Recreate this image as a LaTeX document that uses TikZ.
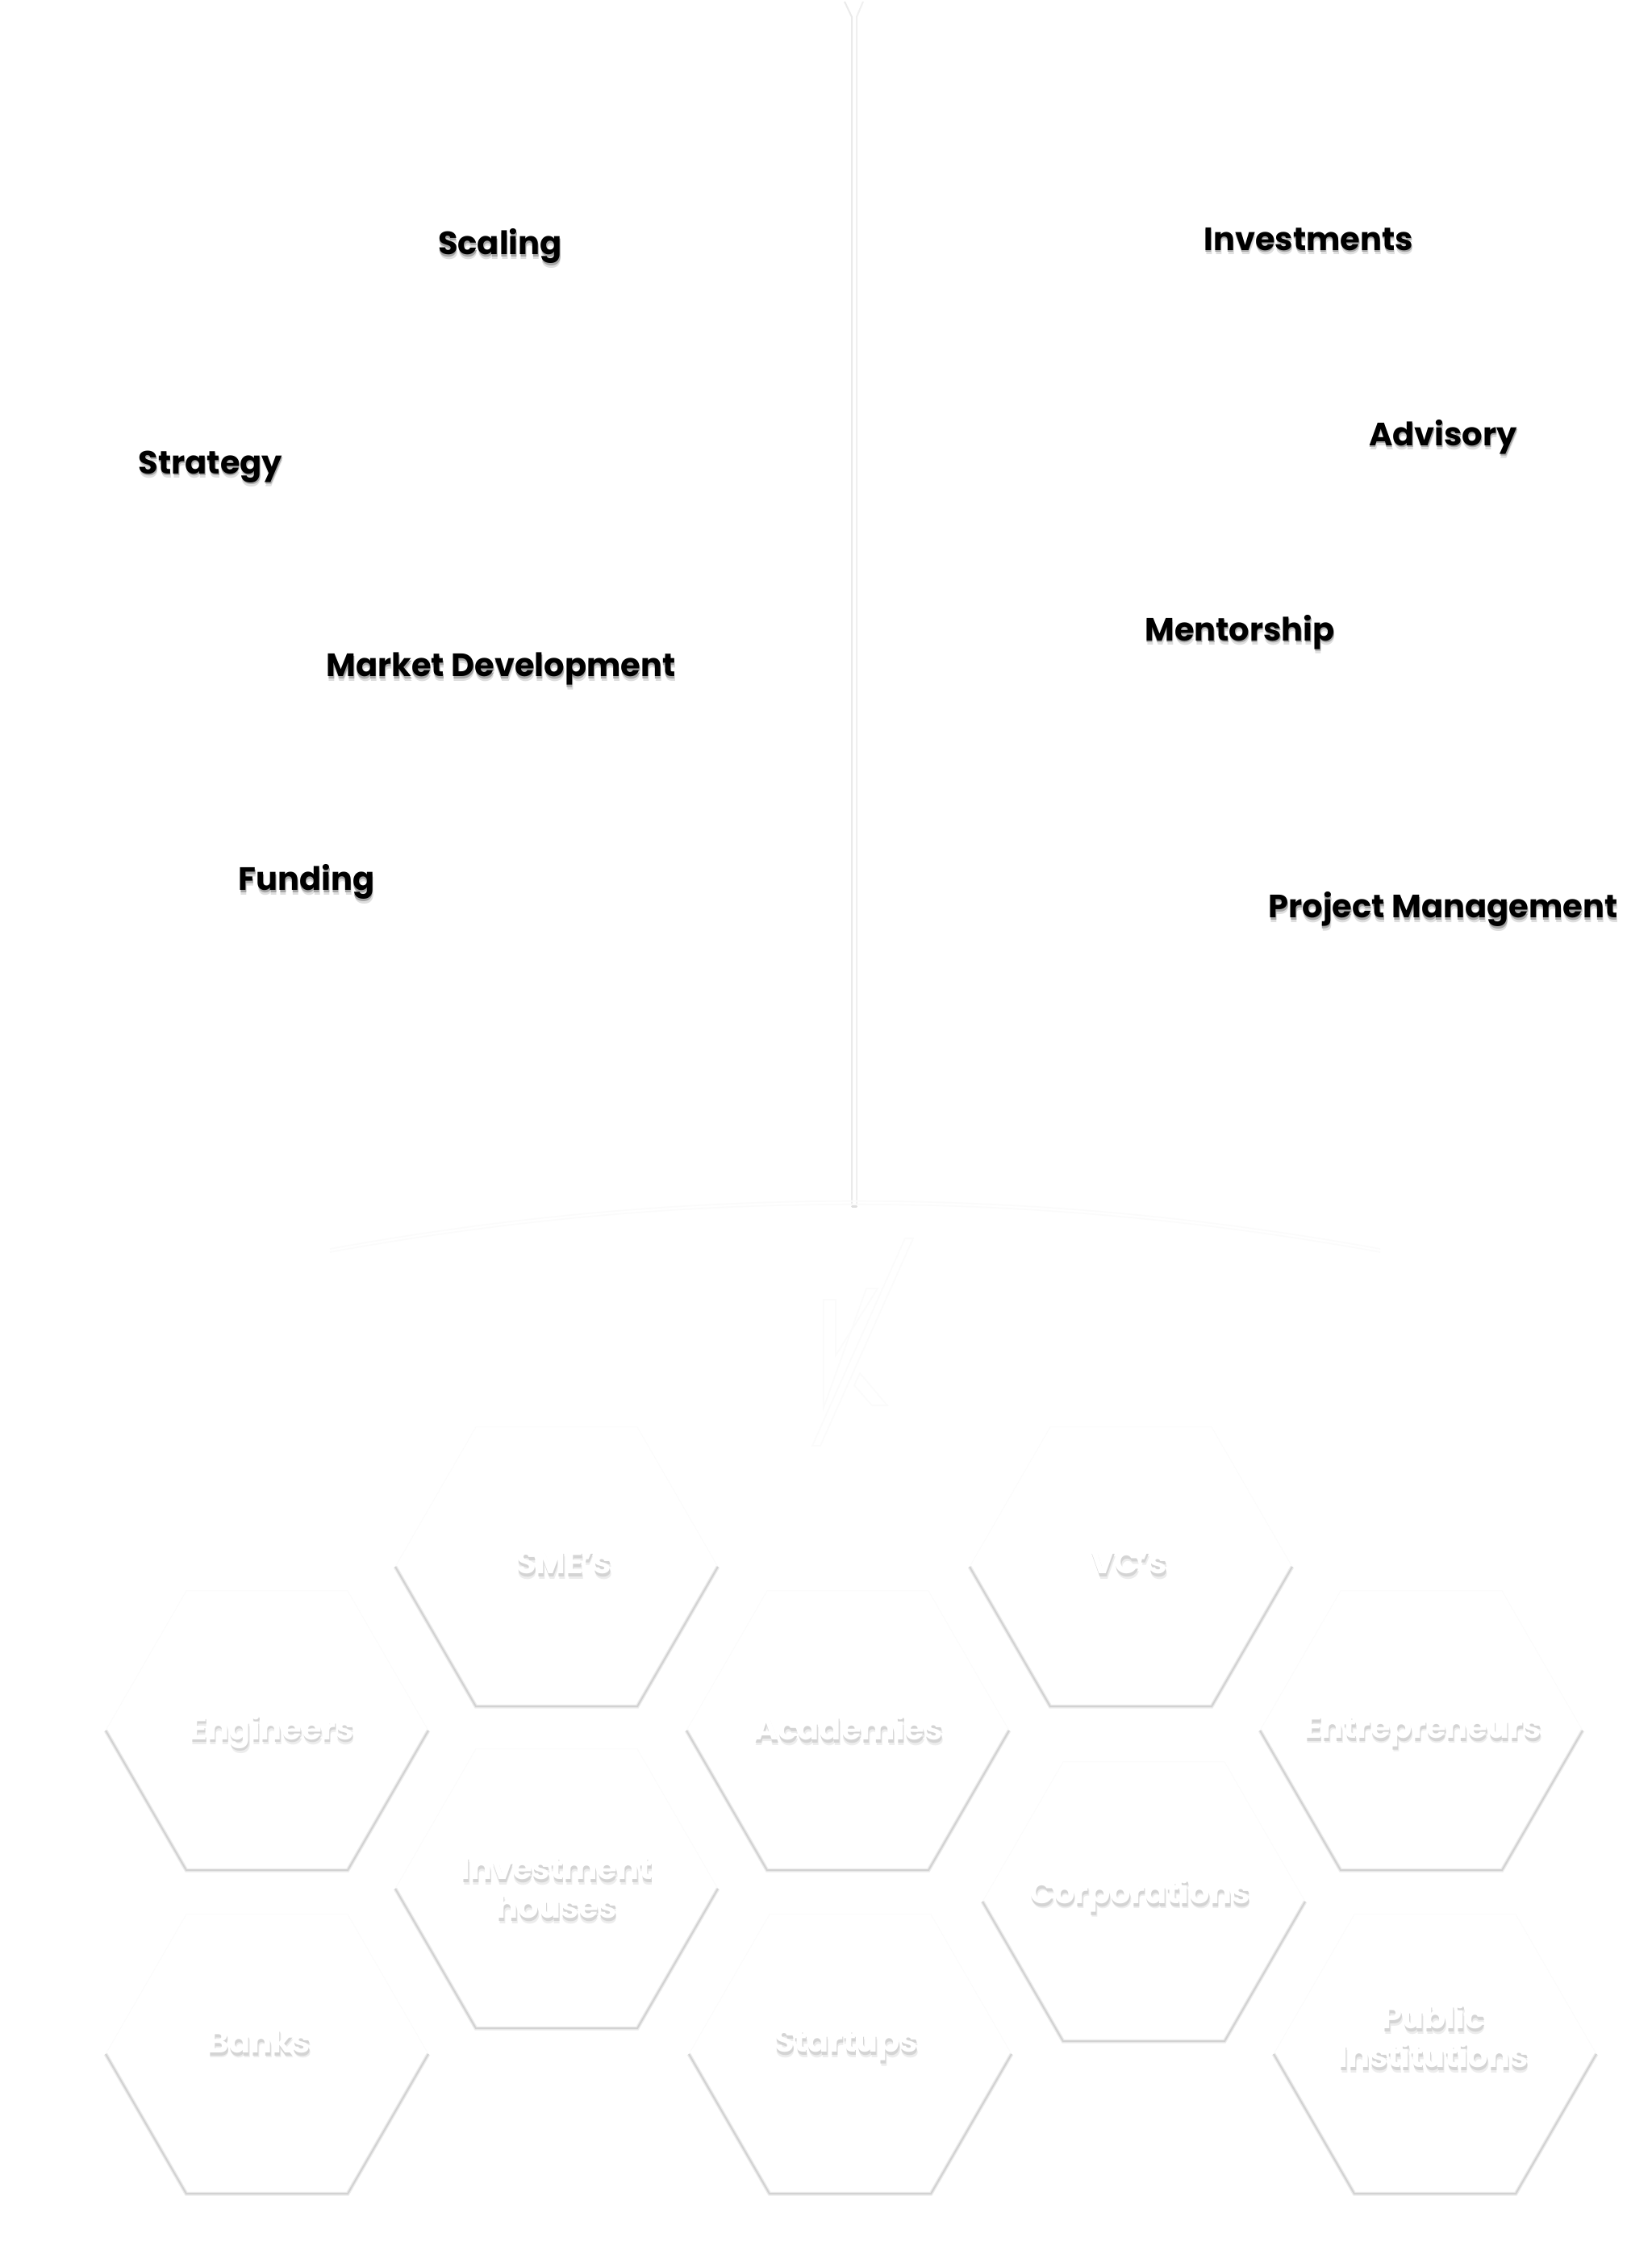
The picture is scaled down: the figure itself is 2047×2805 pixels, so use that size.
\documentclass[tikz,border=0pt]{standalone}
\usepackage{fontspec}
\setmainfont{Poppins}
\usetikzlibrary{positioning,shapes.geometric}
\definecolor{faint}{HTML}{FBFBFB}
\definecolor{edge}{HTML}{D2D2D2}
\definecolor{softedge}{HTML}{ECECEC}
\definecolor{stem}{HTML}{EAEAEA}
\definecolor{shadowdark}{HTML}{A6A6A6}
\definecolor{shadowsoft}{HTML}{DEDEDE}
\definecolor{paleone}{HTML}{D4D4D4}
\definecolor{paletwo}{HTML}{EDEDED}
\newcommand{\darklabel}[1]{\rlap{\color{shadowsoft}\raisebox{-2.6pt}{\kern.5pt #1}}\rlap{\color{shadowdark}\raisebox{-1.3pt}{\kern.3pt #1}}#1}
\newcommand{\palelabel}[1]{\rlap{\color{paletwo}\raisebox{-3.2pt}{\kern.8pt #1}}\rlap{\color{paleone}\raisebox{-1.8pt}{\kern.5pt #1}}#1}
\tikzset{
  service/.style={text=black,font=\bfseries\fontsize{20}{24}\selectfont,inner sep=0pt},
  member/.style={text=white,font=\bfseries\fontsize{20}{24}\selectfont,inner sep=0pt,align=center},
  hexcell/.style={regular polygon,regular polygon sides=6,minimum size=200pt,inner sep=0pt,outer sep=0pt,draw=faint,fill=white},
  rim/.style={edge,line width=1pt},
  softrim/.style={softedge,line width=2.4pt}
}
\begin{document}
\begin{tikzpicture}[x=.5pt,y=-.5pt]
  \useasboundingbox[fill=white] (0,0) rectangle (2047,2805);
  % stem
  \draw[stem,line width=1pt] (1047,2)--(1056,21)--(1056,1494);
  \draw[stem!70,line width=1pt] (1070,2)--(1062,21)--(1062,1494);
  \draw[shadowsoft,line width=1.5pt,line cap=round] (1056.5,1495)--(1061.5,1495);
  \draw[faint,line width=.8pt] (409,1548) .. controls (842,1469) and (1276,1469) .. (1711,1548);
  \draw[faint,line width=.8pt] (409,1552) .. controls (842,1473) and (1276,1473) .. (1711,1552);
  % logo
  \draw[faint,line width=.8pt] (1122,1535)--(1132,1535)--(1017,1792)--(1007,1792)--cycle;
  \draw[faint,line width=.8pt] (1074,1597)--(1088,1597)--(1036,1680)--(1036,1611)--(1021,1611)--(1021,1745)--cycle;
  \draw[faint,line width=.8pt] (1066,1702)--(1100,1742)--(1081,1742)--(1059,1717)--cycle;
  % services
  \node[service] (scaling) at (620,308){\darklabel{Scaling}};
  \node[service] (strategy) at (261,581){\darklabel{Strategy}};
  \node[service] (market) at (621,832){\darklabel{Market Development}};
  \node[service] (funding) at (380,1096){\darklabel{Funding}};
  \node[service] (investments) at (1622,299){\darklabel{Investments}};
  \node[service] (advisory) at (1789,544){\darklabel{Advisory}};
  \node[service] (mentorship) at (1537,786){\darklabel{Mentorship}};
  \node[service] (project) at (1789,1130){\darklabel{Project Management}};
  % hexagons
  \node[hexcell] (sme) at (690,1942){};
  \node[hexcell] (vc) at (1402,1942){};
  \node[hexcell] (engineers) at (331,2145){};
  \node[hexcell] (academies) at (1051,2145){};
  \node[hexcell] (entrepreneurs) at (1762,2145){};
  \node[hexcell] (houses) at (690,2341){};
  \node[hexcell] (corporations) at (1418,2357){};
  \node[hexcell] (banks) at (331,2546){};
  \node[hexcell] (startups) at (1054,2546){};
  \node[hexcell] (public) at (1779,2546){};
  \draw[softrim] (sme.corner 3)--(sme.corner 4)--(sme.corner 5)--(sme.corner 6);
  \draw[rim] (sme.corner 3)--(sme.corner 4)--(sme.corner 5)--(sme.corner 6);
  \draw[softrim] (vc.corner 3)--(vc.corner 4)--(vc.corner 5)--(vc.corner 6);
  \draw[rim] (vc.corner 3)--(vc.corner 4)--(vc.corner 5)--(vc.corner 6);
  \draw[softrim] (engineers.corner 3)--(engineers.corner 4)--(engineers.corner 5)--(engineers.corner 6);
  \draw[rim] (engineers.corner 3)--(engineers.corner 4)--(engineers.corner 5)--(engineers.corner 6);
  \draw[softrim] (academies.corner 3)--(academies.corner 4)--(academies.corner 5)--(academies.corner 6);
  \draw[rim] (academies.corner 3)--(academies.corner 4)--(academies.corner 5)--(academies.corner 6);
  \draw[softrim] (entrepreneurs.corner 3)--(entrepreneurs.corner 4)--(entrepreneurs.corner 5)--(entrepreneurs.corner 6);
  \draw[rim] (entrepreneurs.corner 3)--(entrepreneurs.corner 4)--(entrepreneurs.corner 5)--(entrepreneurs.corner 6);
  \draw[softrim] (houses.corner 3)--(houses.corner 4)--(houses.corner 5)--(houses.corner 6);
  \draw[rim] (houses.corner 3)--(houses.corner 4)--(houses.corner 5)--(houses.corner 6);
  \draw[softrim] (corporations.corner 3)--(corporations.corner 4)--(corporations.corner 5)--(corporations.corner 6);
  \draw[rim] (corporations.corner 3)--(corporations.corner 4)--(corporations.corner 5)--(corporations.corner 6);
  \draw[softrim] (banks.corner 3)--(banks.corner 4)--(banks.corner 5)--(banks.corner 6);
  \draw[rim] (banks.corner 3)--(banks.corner 4)--(banks.corner 5)--(banks.corner 6);
  \draw[softrim] (startups.corner 3)--(startups.corner 4)--(startups.corner 5)--(startups.corner 6);
  \draw[rim] (startups.corner 3)--(startups.corner 4)--(startups.corner 5)--(startups.corner 6);
  \draw[softrim] (public.corner 3)--(public.corner 4)--(public.corner 5)--(public.corner 6);
  \draw[rim] (public.corner 3)--(public.corner 4)--(public.corner 5)--(public.corner 6);
  % names
  \node[member] (smetext) at (699,1940){\palelabel{SME’s}};
  \node[member] (vctext) at (1400,1940){\palelabel{VC’s}};
  \node[member] (engineerstext) at (337,2149){\palelabel{Engineers}};
  \node[member] (academiestext) at (1052,2144){\palelabel{Academies}};
  \node[member] (entrepreneurstext) at (1764,2149){\palelabel{Entrepreneurs}};
  \node[member] (housestext) at (690,2343){\palelabel{Investment}\\\palelabel{houses}};
  \node[member] (corporationstext) at (1413,2352){\palelabel{Corporations}};
  \node[member] (bankstext) at (321,2533){\palelabel{Banks}};
  \node[member] (startupstext) at (1049,2538){\palelabel{Startups}};
  \node[member] (publictext) at (1777,2526){\palelabel{Public}\\\palelabel{Institutions}};
\end{tikzpicture}
\end{document}
